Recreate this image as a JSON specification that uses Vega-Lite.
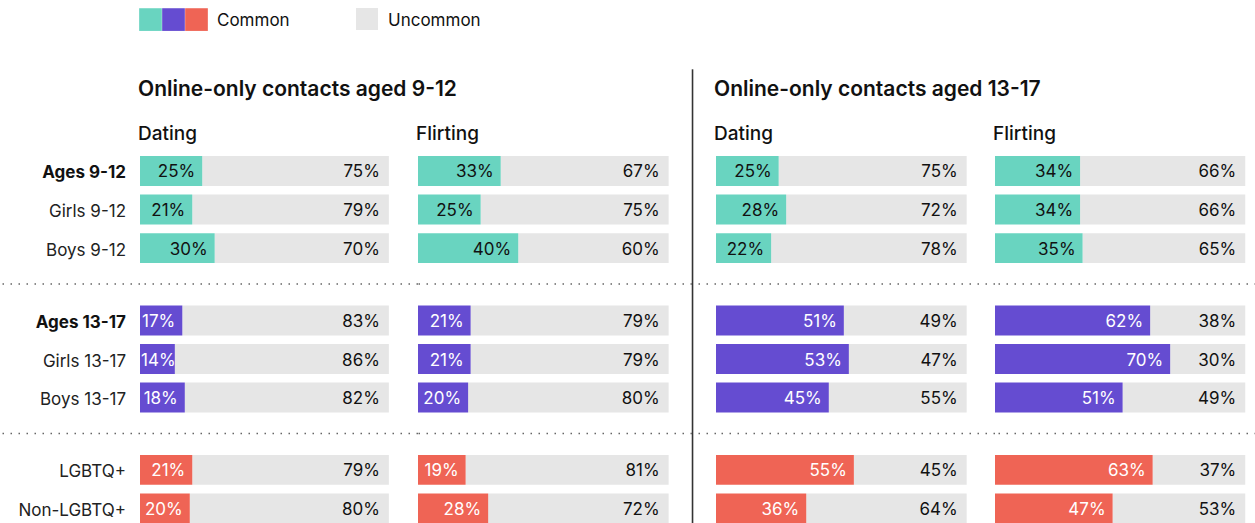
{
  "$schema": "https://vega.github.io/schema/vega-lite/v6.json",
  "padding": {"left": 0, "right": 0, "top": 8, "bottom": 0},
  "bounds": "flush",
  "spacing": 0,
  "config": {
    "view": {"stroke": null},
    "font": "Inter",
    "title": {"anchor": "start", "frame": "group", "dx": -2, "font": "Inter", "fontSize": 21, "fontWeight": 600, "color": "#111", "subtitleFont": "Inter", "subtitleFontSize": 19, "subtitleFontWeight": 500, "subtitleColor": "#111", "offset": 12, "subtitlePadding": 25},
    "legend": {"orient": "none", "legendY": -148, "title": null, "padding": 0, "labelFont": "Inter", "labelFontSize": 17, "labelColor": "#111", "symbolType": "square", "symbolStrokeWidth": 0, "symbolOpacity": 1, "direction": "horizontal"}
  },
  "datasets": {
    "rows": [
      {"contact": "9-12", "topic": "Dating", "group": "Ages 9-12", "order": 1, "label": "Ages 9-12", "common": 0.25, "uncommon": 0.75},
      {"contact": "9-12", "topic": "Dating", "group": "Ages 9-12", "order": 2, "label": "Girls 9-12", "common": 0.21, "uncommon": 0.79},
      {"contact": "9-12", "topic": "Dating", "group": "Ages 9-12", "order": 3, "label": "Boys 9-12", "common": 0.30, "uncommon": 0.70},
      {"contact": "9-12", "topic": "Dating", "group": "Ages 13-17", "order": 1, "label": "Ages 13-17", "common": 0.17, "uncommon": 0.83},
      {"contact": "9-12", "topic": "Dating", "group": "Ages 13-17", "order": 2, "label": "Girls 13-17", "common": 0.14, "uncommon": 0.86},
      {"contact": "9-12", "topic": "Dating", "group": "Ages 13-17", "order": 3, "label": "Boys 13-17", "common": 0.18, "uncommon": 0.82},
      {"contact": "9-12", "topic": "Dating", "group": "LGBTQ+ status", "order": 1, "label": "LGBTQ+", "common": 0.21, "uncommon": 0.79},
      {"contact": "9-12", "topic": "Dating", "group": "LGBTQ+ status", "order": 2, "label": "Non-LGBTQ+", "common": 0.20, "uncommon": 0.80},
      {"contact": "9-12", "topic": "Flirting", "group": "Ages 9-12", "order": 1, "label": "Ages 9-12", "common": 0.33, "uncommon": 0.67},
      {"contact": "9-12", "topic": "Flirting", "group": "Ages 9-12", "order": 2, "label": "Girls 9-12", "common": 0.25, "uncommon": 0.75},
      {"contact": "9-12", "topic": "Flirting", "group": "Ages 9-12", "order": 3, "label": "Boys 9-12", "common": 0.40, "uncommon": 0.60},
      {"contact": "9-12", "topic": "Flirting", "group": "Ages 13-17", "order": 1, "label": "Ages 13-17", "common": 0.21, "uncommon": 0.79},
      {"contact": "9-12", "topic": "Flirting", "group": "Ages 13-17", "order": 2, "label": "Girls 13-17", "common": 0.21, "uncommon": 0.79},
      {"contact": "9-12", "topic": "Flirting", "group": "Ages 13-17", "order": 3, "label": "Boys 13-17", "common": 0.20, "uncommon": 0.80},
      {"contact": "9-12", "topic": "Flirting", "group": "LGBTQ+ status", "order": 1, "label": "LGBTQ+", "common": 0.19, "uncommon": 0.81},
      {"contact": "9-12", "topic": "Flirting", "group": "LGBTQ+ status", "order": 2, "label": "Non-LGBTQ+", "common": 0.28, "uncommon": 0.72},
      {"contact": "13-17", "topic": "Dating", "group": "Ages 9-12", "order": 1, "label": "Ages 9-12", "common": 0.25, "uncommon": 0.75},
      {"contact": "13-17", "topic": "Dating", "group": "Ages 9-12", "order": 2, "label": "Girls 9-12", "common": 0.28, "uncommon": 0.72},
      {"contact": "13-17", "topic": "Dating", "group": "Ages 9-12", "order": 3, "label": "Boys 9-12", "common": 0.22, "uncommon": 0.78},
      {"contact": "13-17", "topic": "Dating", "group": "Ages 13-17", "order": 1, "label": "Ages 13-17", "common": 0.51, "uncommon": 0.49},
      {"contact": "13-17", "topic": "Dating", "group": "Ages 13-17", "order": 2, "label": "Girls 13-17", "common": 0.53, "uncommon": 0.47},
      {"contact": "13-17", "topic": "Dating", "group": "Ages 13-17", "order": 3, "label": "Boys 13-17", "common": 0.45, "uncommon": 0.55},
      {"contact": "13-17", "topic": "Dating", "group": "LGBTQ+ status", "order": 1, "label": "LGBTQ+", "common": 0.55, "uncommon": 0.45},
      {"contact": "13-17", "topic": "Dating", "group": "LGBTQ+ status", "order": 2, "label": "Non-LGBTQ+", "common": 0.36, "uncommon": 0.64},
      {"contact": "13-17", "topic": "Flirting", "group": "Ages 9-12", "order": 1, "label": "Ages 9-12", "common": 0.34, "uncommon": 0.66},
      {"contact": "13-17", "topic": "Flirting", "group": "Ages 9-12", "order": 2, "label": "Girls 9-12", "common": 0.34, "uncommon": 0.66},
      {"contact": "13-17", "topic": "Flirting", "group": "Ages 9-12", "order": 3, "label": "Boys 9-12", "common": 0.35, "uncommon": 0.65},
      {"contact": "13-17", "topic": "Flirting", "group": "Ages 13-17", "order": 1, "label": "Ages 13-17", "common": 0.62, "uncommon": 0.38},
      {"contact": "13-17", "topic": "Flirting", "group": "Ages 13-17", "order": 2, "label": "Girls 13-17", "common": 0.70, "uncommon": 0.30},
      {"contact": "13-17", "topic": "Flirting", "group": "Ages 13-17", "order": 3, "label": "Boys 13-17", "common": 0.51, "uncommon": 0.49},
      {"contact": "13-17", "topic": "Flirting", "group": "LGBTQ+ status", "order": 1, "label": "LGBTQ+", "common": 0.63, "uncommon": 0.37},
      {"contact": "13-17", "topic": "Flirting", "group": "LGBTQ+ status", "order": 2, "label": "Non-LGBTQ+", "common": 0.47, "uncommon": 0.53}
    ]
  },
  "data": {"name": "rows"},
  "resolve": {"scale": {"x": "independent"}},
  "hconcat": [
    {
      "width": 139, "height": 406,
      "layer": [
        {
          "transform": [{"filter": "datum.contact === '9-12' && datum.topic === 'Dating' && (datum.label === 'Ages 9-12' || datum.label === 'Ages 13-17')"}],
          "mark": {"type": "text", "align": "right", "dx": -14, "dy": 2.5, "fontSize": 17, "fontWeight": 700, "color": "#111"},
          "encoding": {
            "x": {"datum": 1, "type": "quantitative", "scale": {"domain": [0, 1], "nice": false}, "axis": null},
            "y": {"field": "group", "type": "nominal", "scale": {"domain": ["Ages 9-12", "Ages 13-17", "LGBTQ+ status"], "paddingInner": 0.284, "paddingOuter": 0}, "axis": null},
            "yOffset": {"field": "order", "type": "ordinal", "scale": {"domain": [1, 2, 3], "paddingInner": 0.225, "paddingOuter": 0}},
            "text": {"field": "label", "type": "nominal"}
          }
        },
        {
          "transform": [{"filter": "datum.contact === '9-12' && datum.topic === 'Dating' && datum.label !== 'Ages 9-12' && datum.label !== 'Ages 13-17'"}],
          "mark": {"type": "text", "align": "right", "dx": -14, "dy": 2.5, "fontSize": 17, "fontWeight": 400, "color": "#222"},
          "encoding": {
            "x": {"datum": 1, "type": "quantitative"},
            "y": {"field": "group", "type": "nominal"},
            "yOffset": {"field": "order", "type": "ordinal"},
            "text": {"field": "label", "type": "nominal"}
          }
        },
        {
          "data": {"values": [{"group": "Ages 13-17"}, {"group": "LGBTQ+ status"}]},
          "mark": {"type": "rule", "strokeDash": [1.5, 6.5], "strokeWidth": 1.5, "color": "#666"},
          "encoding": {"y": {"field": "group", "type": "nominal", "bandPosition": -0.2}}
        },
        {
          "data": {"values": [{"group": "Ages 9-12"}]},
          "mark": {"type": "rule", "color": "#333", "strokeWidth": 1.6},
          "encoding": {"x": {"datum": 4.975, "type": "quantitative"}}
        },
        {
          "data": {"values": [{"group": "Ages 9-12"}]},
          "mark": {"type": "rule", "color": "#333", "strokeWidth": 1.6},
          "encoding": {"x": {"datum": 4.975, "type": "quantitative"}, "y": {"field": "group", "type": "nominal", "bandPosition": -0.81}, "y2": {"field": "group", "bandPosition": 0}}
        }
      ]
    },
    {
      "width": 278, "height": 406,
      "title": {"text": "Online-only contacts aged 9-12", "subtitle": "Dating"},
      "layer": [
        {
          "transform": [{"filter": "datum.contact === '9-12' && datum.topic === 'Dating'"}],
          "encoding": {
            "y": {"field": "group", "type": "nominal", "scale": {"domain": ["Ages 9-12", "Ages 13-17", "LGBTQ+ status"], "paddingInner": 0.284, "paddingOuter": 0}, "axis": null},
            "yOffset": {"field": "order", "type": "ordinal", "scale": {"domain": [1, 2, 3], "paddingInner": 0.225, "paddingOuter": 0}}
          },
          "layer": [
            {"mark": {"type": "bar", "color": "#e6e6e6"}, "encoding": {"x": {"field": "common", "type": "quantitative", "scale": {"domain": [0, 1.117], "nice": false, "zero": true}, "axis": null}, "x2": {"datum": 1}, "fill": {"datum": "Uncommon", "type": "nominal", "scale": {"domain": ["Uncommon"], "range": ["#e6e6e6"]}, "legend": {"legendX": 355, "symbolSize": 484, "labelOffset": 10, "encode": {"labels": {"update": {"dy": {"value": 1.5}}}}}}}},
            {"mark": {"type": "bar"}, "encoding": {"x": {"field": "common", "type": "quantitative"}, "x2": {"datum": 0}, "color": {"field": "group", "type": "nominal", "scale": {"domain": ["Ages 9-12", "Ages 13-17", "LGBTQ+ status"], "range": ["#69d4c0", "#654cd1", "#ef6455"]}, "legend": {"legendX": 138, "symbolSize": 515, "labelOffset": 0, "columns": 3, "columnPadding": 0, "labelExpr": "datum.label === 'LGBTQ+ status' ? 'Common' : ''", "encode": {"labels": {"update": {"dy": {"value": 1.5}, "dx": [{"test": "datum.label === 'LGBTQ+ status'", "value": 9}, {"value": 0}]}}}}}}},
            {"transform": [{"filter": "datum.common >= 0.16"}], "mark": {"type": "text", "align": "right", "dx": -7, "dy": 1.5, "fontSize": 17}, "encoding": {"x": {"field": "common", "type": "quantitative"}, "text": {"field": "common", "type": "quantitative", "format": ".0%"}, "color": {"condition": {"test": "datum.group === 'Ages 9-12'", "value": "#111"}, "value": "#ffffff"}}},
            {"transform": [{"filter": "datum.common < 0.16"}], "mark": {"type": "text", "align": "left", "dx": 1, "dy": 1.5, "fontSize": 17}, "encoding": {"x": {"datum": 0, "type": "quantitative"}, "text": {"field": "common", "type": "quantitative", "format": ".0%"}, "color": {"condition": {"test": "datum.group === 'Ages 9-12'", "value": "#111"}, "value": "#ffffff"}}},
            {"mark": {"type": "text", "align": "right", "dx": -9, "dy": 1.5, "fontSize": 17, "color": "#111"}, "encoding": {"x": {"datum": 1, "type": "quantitative"}, "text": {"field": "uncommon", "type": "quantitative", "format": ".0%"}}}
          ]
        },
        {
          "data": {"values": [{"group": "Ages 13-17"}, {"group": "LGBTQ+ status"}]},
          "mark": {"type": "rule", "strokeDash": [1.5, 6.5], "strokeWidth": 1.5, "color": "#666"},
          "encoding": {"y": {"field": "group", "type": "nominal", "bandPosition": -0.2}}
        }
      ]
    },
    {
      "width": 298, "height": 406,
      "title": {"text": "Flirting", "fontSize": 19, "fontWeight": 500},
      "layer": [
        {
          "transform": [{"filter": "datum.contact === '9-12' && datum.topic === 'Flirting'"}],
          "encoding": {
            "y": {"field": "group", "type": "nominal", "scale": {"domain": ["Ages 9-12", "Ages 13-17", "LGBTQ+ status"], "paddingInner": 0.284, "paddingOuter": 0}, "axis": null},
            "yOffset": {"field": "order", "type": "ordinal", "scale": {"domain": [1, 2, 3], "paddingInner": 0.225, "paddingOuter": 0}}
          },
          "layer": [
            {"mark": {"type": "bar", "color": "#e6e6e6"}, "encoding": {"x": {"field": "common", "type": "quantitative", "scale": {"domain": [0, 1.189], "nice": false, "zero": true}, "axis": null}, "x2": {"datum": 1}, "fill": {"datum": "Uncommon", "type": "nominal", "scale": {"domain": ["Uncommon"], "range": ["#e6e6e6"]}, "legend": {"legendX": 355, "symbolSize": 484, "labelOffset": 10, "encode": {"labels": {"update": {"dy": {"value": 1.5}}}}}}}},
            {"mark": {"type": "bar"}, "encoding": {"x": {"field": "common", "type": "quantitative"}, "x2": {"datum": 0}, "color": {"field": "group", "type": "nominal", "scale": {"domain": ["Ages 9-12", "Ages 13-17", "LGBTQ+ status"], "range": ["#69d4c0", "#654cd1", "#ef6455"]}, "legend": {"legendX": 138, "symbolSize": 515, "labelOffset": 0, "columns": 3, "columnPadding": 0, "labelExpr": "datum.label === 'LGBTQ+ status' ? 'Common' : ''", "encode": {"labels": {"update": {"dy": {"value": 1.5}, "dx": [{"test": "datum.label === 'LGBTQ+ status'", "value": 9}, {"value": 0}]}}}}}}},
            {"mark": {"type": "text", "align": "right", "dx": -7, "dy": 1.5, "fontSize": 17}, "encoding": {"x": {"field": "common", "type": "quantitative"}, "text": {"field": "common", "type": "quantitative", "format": ".0%"}, "color": {"condition": {"test": "datum.group === 'Ages 9-12'", "value": "#111"}, "value": "#ffffff"}}},
            {"mark": {"type": "text", "align": "right", "dx": -9, "dy": 1.5, "fontSize": 17, "color": "#111"}, "encoding": {"x": {"datum": 1, "type": "quantitative"}, "text": {"field": "uncommon", "type": "quantitative", "format": ".0%"}}}
          ]
        },
        {
          "data": {"values": [{"group": "Ages 13-17"}, {"group": "LGBTQ+ status"}]},
          "mark": {"type": "rule", "strokeDash": [1.5, 6.5], "strokeWidth": 1.5, "color": "#666"},
          "encoding": {"y": {"field": "group", "type": "nominal", "bandPosition": -0.2}}
        }
      ]
    },
    {
      "width": 279, "height": 406,
      "title": {"text": "Online-only contacts aged 13-17", "subtitle": "Dating"},
      "layer": [
        {
          "transform": [{"filter": "datum.contact === '13-17' && datum.topic === 'Dating'"}],
          "encoding": {
            "y": {"field": "group", "type": "nominal", "scale": {"domain": ["Ages 9-12", "Ages 13-17", "LGBTQ+ status"], "paddingInner": 0.284, "paddingOuter": 0}, "axis": null},
            "yOffset": {"field": "order", "type": "ordinal", "scale": {"domain": [1, 2, 3], "paddingInner": 0.225, "paddingOuter": 0}}
          },
          "layer": [
            {"mark": {"type": "bar", "color": "#e6e6e6"}, "encoding": {"x": {"field": "common", "type": "quantitative", "scale": {"domain": [0, 1.113], "nice": false, "zero": true}, "axis": null}, "x2": {"datum": 1}, "fill": {"datum": "Uncommon", "type": "nominal", "scale": {"domain": ["Uncommon"], "range": ["#e6e6e6"]}, "legend": {"legendX": 355, "symbolSize": 484, "labelOffset": 10, "encode": {"labels": {"update": {"dy": {"value": 1.5}}}}}}}},
            {"mark": {"type": "bar"}, "encoding": {"x": {"field": "common", "type": "quantitative"}, "x2": {"datum": 0}, "color": {"field": "group", "type": "nominal", "scale": {"domain": ["Ages 9-12", "Ages 13-17", "LGBTQ+ status"], "range": ["#69d4c0", "#654cd1", "#ef6455"]}, "legend": {"legendX": 138, "symbolSize": 515, "labelOffset": 0, "columns": 3, "columnPadding": 0, "labelExpr": "datum.label === 'LGBTQ+ status' ? 'Common' : ''", "encode": {"labels": {"update": {"dy": {"value": 1.5}, "dx": [{"test": "datum.label === 'LGBTQ+ status'", "value": 9}, {"value": 0}]}}}}}}},
            {"mark": {"type": "text", "align": "right", "dx": -7, "dy": 1.5, "fontSize": 17}, "encoding": {"x": {"field": "common", "type": "quantitative"}, "text": {"field": "common", "type": "quantitative", "format": ".0%"}, "color": {"condition": {"test": "datum.group === 'Ages 9-12'", "value": "#111"}, "value": "#ffffff"}}},
            {"mark": {"type": "text", "align": "right", "dx": -9, "dy": 1.5, "fontSize": 17, "color": "#111"}, "encoding": {"x": {"datum": 1, "type": "quantitative"}, "text": {"field": "uncommon", "type": "quantitative", "format": ".0%"}}}
          ]
        },
        {
          "data": {"values": [{"group": "Ages 13-17"}, {"group": "LGBTQ+ status"}]},
          "mark": {"type": "rule", "strokeDash": [1.5, 6.5], "strokeWidth": 1.5, "color": "#666"},
          "encoding": {"y": {"field": "group", "type": "nominal", "bandPosition": -0.2}}
        }
      ]
    },
    {
      "width": 261, "height": 406,
      "title": {"text": "Flirting", "fontSize": 19, "fontWeight": 500},
      "layer": [
        {
          "transform": [{"filter": "datum.contact === '13-17' && datum.topic === 'Flirting'"}],
          "encoding": {
            "y": {"field": "group", "type": "nominal", "scale": {"domain": ["Ages 9-12", "Ages 13-17", "LGBTQ+ status"], "paddingInner": 0.284, "paddingOuter": 0}, "axis": null},
            "yOffset": {"field": "order", "type": "ordinal", "scale": {"domain": [1, 2, 3], "paddingInner": 0.225, "paddingOuter": 0}}
          },
          "layer": [
            {"mark": {"type": "bar", "color": "#e6e6e6"}, "encoding": {"x": {"field": "common", "type": "quantitative", "scale": {"domain": [0, 1.043], "nice": false, "zero": true}, "axis": null}, "x2": {"datum": 1}, "fill": {"datum": "Uncommon", "type": "nominal", "scale": {"domain": ["Uncommon"], "range": ["#e6e6e6"]}, "legend": {"legendX": 355, "symbolSize": 484, "labelOffset": 10, "encode": {"labels": {"update": {"dy": {"value": 1.5}}}}}}}},
            {"mark": {"type": "bar"}, "encoding": {"x": {"field": "common", "type": "quantitative"}, "x2": {"datum": 0}, "color": {"field": "group", "type": "nominal", "scale": {"domain": ["Ages 9-12", "Ages 13-17", "LGBTQ+ status"], "range": ["#69d4c0", "#654cd1", "#ef6455"]}, "legend": {"legendX": 138, "symbolSize": 515, "labelOffset": 0, "columns": 3, "columnPadding": 0, "labelExpr": "datum.label === 'LGBTQ+ status' ? 'Common' : ''", "encode": {"labels": {"update": {"dy": {"value": 1.5}, "dx": [{"test": "datum.label === 'LGBTQ+ status'", "value": 9}, {"value": 0}]}}}}}}},
            {"mark": {"type": "text", "align": "right", "dx": -7, "dy": 1.5, "fontSize": 17}, "encoding": {"x": {"field": "common", "type": "quantitative"}, "text": {"field": "common", "type": "quantitative", "format": ".0%"}, "color": {"condition": {"test": "datum.group === 'Ages 9-12'", "value": "#111"}, "value": "#ffffff"}}},
            {"mark": {"type": "text", "align": "right", "dx": -9, "dy": 1.5, "fontSize": 17, "color": "#111"}, "encoding": {"x": {"datum": 1, "type": "quantitative"}, "text": {"field": "uncommon", "type": "quantitative", "format": ".0%"}}}
          ]
        },
        {
          "data": {"values": [{"group": "Ages 13-17"}, {"group": "LGBTQ+ status"}]},
          "mark": {"type": "rule", "strokeDash": [1.5, 6.5], "strokeWidth": 1.5, "color": "#666"},
          "encoding": {"y": {"field": "group", "type": "nominal", "bandPosition": -0.2}}
        }
      ]
    }
  ]
}
